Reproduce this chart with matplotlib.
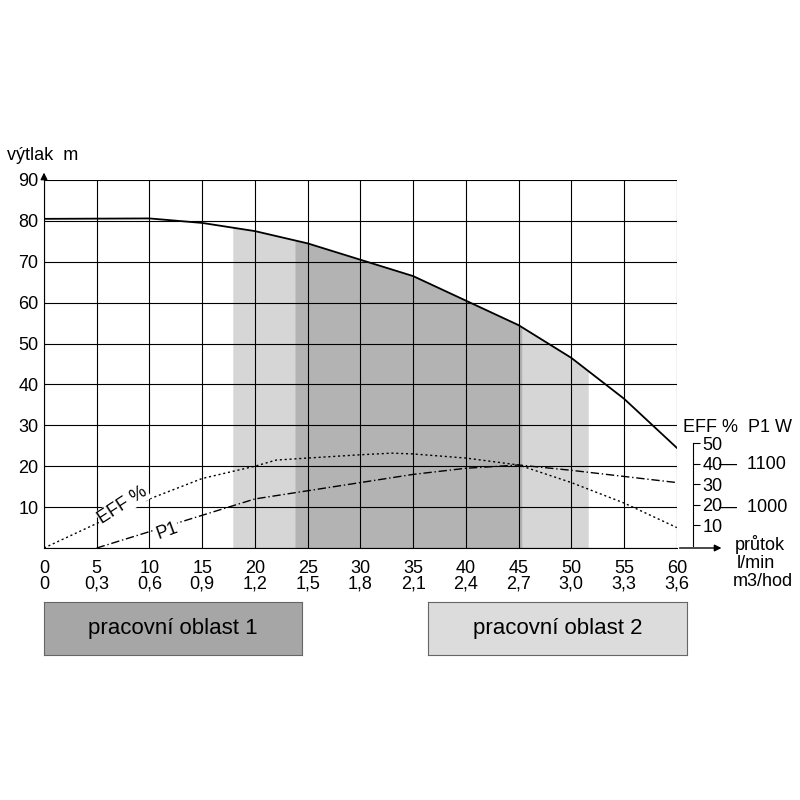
import matplotlib
matplotlib.use("Agg")
import matplotlib.pyplot as plt
import numpy as np

plt.rcParams['font.family'] = ['Liberation Sans', 'DejaVu Sans']

flow = [0, 10, 15, 20, 25, 30, 35, 40, 45, 50, 55, 60]
head = [80.5, 80.6, 79.5, 77.5, 74.5, 70.5, 66.5, 60.5, 54.5, 46.5, 36.5, 24.5]
eff_x = [0, 5, 10, 15, 20, 22, 25, 30, 33, 35, 40, 45, 50, 55, 60]
eff_y = [0, 6, 12, 17, 20, 21.5, 22, 22.8, 23.2, 23, 22, 20.3, 16, 11, 5]
p1_x = [5, 10, 15, 20, 25, 30, 35, 40, 45, 50, 55, 60]
p1_y = [0, 4, 8, 12, 14, 16, 18, 19.5, 20.3, 19, 17.5, 16]
m3_labels = ['0', '0,3', '0,6', '0,9', '1,2', '1,5', '1,8', '2,1', '2,4', '2,7', '3,0', '3,3', '3,6']
p1_ticks = [1000, 1100]
p1_tick_pos = [10.0, 20.3]
zone_light = (17.9, 51.6)
zone_dark = (23.8, 45.4)

fig = plt.figure(figsize=(8, 8), dpi=100)
ax = fig.add_axes([0.055, 0.315, 0.791, 0.46])
ax.set_xlim(0, 60)
ax.set_ylim(0, 90)

xs = np.linspace(0, 60, 601)
hs = np.interp(xs, flow, head)
m = (xs >= zone_light[0]) & (xs <= zone_light[1])
ax.fill_between(xs[m], 0, hs[m], color='#d6d6d6', lw=0, zorder=0)
m = (xs >= zone_dark[0]) & (xs <= zone_dark[1])
ax.fill_between(xs[m], 0, hs[m], color='#b3b3b3', lw=0, zorder=0)

ax.set_xticks(range(0, 61, 5))
ax.set_yticks(range(0, 91, 10))
ax.grid(True, color='black', lw=0.8, zorder=1)
ax.set_axisbelow(False)
for s in ['top', 'right']:
    ax.spines[s].set_visible(False)
ax.tick_params(length=0, labelsize=13, pad=4)
ax.set_yticklabels(['', '10', '20', '30', '40', '50', '60', '70', '80', '90'])
ax.set_xticklabels([])
for i, x in enumerate(range(0, 61, 5)):
    ax.text(x, -3, str(x), ha='center', va='top', fontsize=13, clip_on=False)
    ax.text(x, -6.8, m3_labels[i], ha='center', va='top', fontsize=13, clip_on=False)
ax.annotate('', xy=(64.5, 0), xytext=(60, 0), annotation_clip=False,
            arrowprops=dict(arrowstyle='-|>', color='black', lw=1))
ax.annotate('', xy=(0, 92.5), xytext=(0, 90), annotation_clip=False,
            arrowprops=dict(arrowstyle='-|>', color='black', lw=1))

ax.plot(flow, head, color='black', lw=1.3, zorder=3)
ax.plot(eff_x, eff_y, color='black', lw=1, ls=(0, (1.5, 2)), zorder=3)
ax.plot(p1_x, p1_y, color='black', lw=1, ls=(0, (6, 2, 1, 2)), zorder=3)
ax.text(7.5, 10.5, 'EFF %', rotation=33, fontsize=13, ha='center', va='center',
        bbox=dict(fc='white', ec='none', pad=0.5), zorder=4)
ax.text(11.7, 4.2, 'P1', rotation=20, fontsize=13, ha='center', va='center',
        bbox=dict(fc='white', ec='none', pad=0.5), zorder=4)

# right scales (EFF % and P1 W)
sec = ax.secondary_yaxis(1.025, functions=(lambda y: (y - 0.6) * 2, lambda v: v / 2 + 0.6))
sec.set_yticks([10, 20, 30, 40, 50])
sec.tick_params(length=5, labelsize=13, direction='out', pad=2)
sec.spines['right'].set_bounds(0, 50)
for v, yy in zip(p1_ticks, p1_tick_pos):
    ax.text(64.0, yy, '—  ' + str(v), ha='left', va='center', fontsize=13, clip_on=False)

fig.text(7 / 800, 1 - 155 / 800, 'výtlak  m', fontsize=13, va='center')
fig.text(683 / 800, 1 - 428 / 800, 'EFF %  P1 W', fontsize=13, va='center')
fig.text(735 / 800, 1 - 544 / 800, 'průtok', fontsize=13, va='center')
fig.text(737 / 800, 1 - 563 / 800, 'l/min', fontsize=13, va='center')
fig.text(733 / 800, 1 - 581 / 800, 'm3/hod', fontsize=13, va='center')

b1 = fig.add_axes([44 / 800, 1 - 655 / 800, 258 / 800, 53 / 800])
b2 = fig.add_axes([428 / 800, 1 - 655 / 800, 259 / 800, 53 / 800])
for b, c, t in [(b1, '#a6a6a6', 'pracovní oblast 1'), (b2, '#dcdcdc', 'pracovní oblast 2')]:
    b.set_facecolor(c)
    b.set_xticks([]); b.set_yticks([])
    for s in b.spines.values():
        s.set_color('#666666')
    b.text(0.5, 0.5, t, ha='center', va='center', fontsize=16, transform=b.transAxes)

fig.savefig('out.png', dpi=100)
